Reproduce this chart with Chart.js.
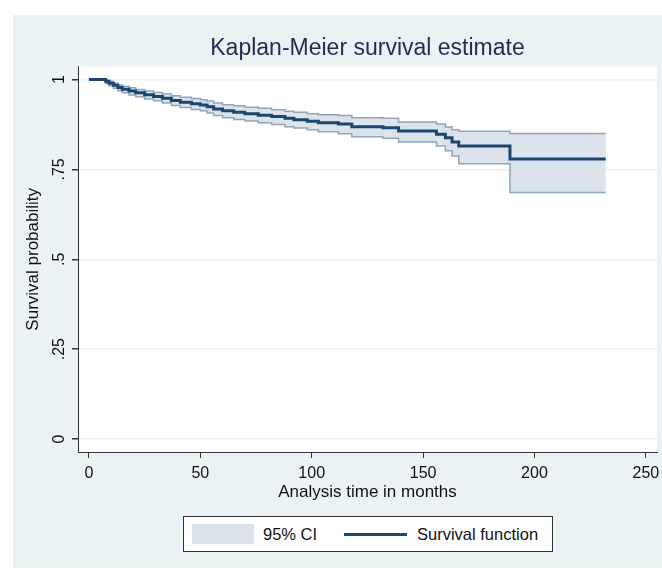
<!DOCTYPE html>
<html>
<head>
<meta charset="utf-8">
<script src="https://cdn.jsdelivr.net/npm/chart.js@4.4.0/dist/chart.umd.min.js"></script>
<style>
  body { margin: 0; background: #fff; }
  #wrap { position: relative; width: 662px; height: 570px; }
  #legend {
    position: absolute; left: 183px; top: 516px; width: 368px; height: 34px;
    border: 1px solid #333; background: #fff; white-space: nowrap;
    font-family: 'Liberation Sans', Arial, sans-serif;
    font-size: 16.5px; color: #111; line-height: 20px;
  }
  #legend .sw { position: absolute; left: 8px; top: 7px; width: 62px; height: 20px; background: #dde3ea; }
  #legend .ln { position: absolute; left: 160px; top: 16px; width: 63px; height: 3px; background: #1a476f; }
  #legend .t1 { position: absolute; left: 79px; top: 7px; }
  #legend .t2 { position: absolute; left: 233px; top: 7px; }
</style>
</head>
<body>
<div id="wrap">
  <canvas id="km"></canvas>
  <div id="legend">
    <div class="sw"></div><span class="t1">95% CI</span>
    <div class="ln"></div><span class="t2">Survival function</span>
  </div>
</div>
<script>
// step times (months) and KM estimate with 95% CI
var times    = [0, 7.5, 9, 11, 13, 15, 18, 21, 25, 29, 33, 37, 41, 46, 50, 53, 56, 60, 65, 70, 76, 82, 88, 92, 98, 103, 112, 118, 132, 139, 156, 160, 163, 166, 189, 232];
var survival = [1, .995, .990, .984, .978, .973, .968, .963, .958, .953, .948, .942, .937, .933, .929, .924, .918, .913, .909, .905, .901, .897, .892, .888, .884, .880, .876, .869, .866, .857, .848, .838, .826, .815, .779, .779];
var lowerCI  = [1, .990, .983, .976, .969, .963, .957, .952, .946, .941, .935, .928, .922, .917, .913, .907, .900, .894, .889, .885, .880, .875, .869, .865, .860, .855, .849, .841, .837, .826, .815, .802, .787, .766, .686, .686];
var upperCI  = [1, .998, .995, .990, .985, .981, .977, .972, .968, .964, .960, .955, .951, .947, .944, .940, .935, .930, .927, .923, .920, .916, .912, .909, .905, .902, .900, .894, .892, .882, .876, .868, .860, .856, .850, .850];
var xTicks = [0, 50, 100, 150, 200, 250];
var yTicks = [0, .25, .5, .75, 1];
var yTickLabels = ['0', '.25', '.5', '.75', '1'];

var fontFam = "'Liberation Sans', Arial, sans-serif";

function pts(ys){
  var out = [];
  for (var i = 0; i < times.length; i++) out.push({x: times[i], y: ys[i]});
  return out;
}

var bgPlugin = {
  id: 'stataBg',
  afterLayout: function(chart){
    // centre the title over the plot region
    chart.titleBlock.left = chart.chartArea.left;
    chart.titleBlock.right = chart.chartArea.right;
  },
  beforeDraw: function(chart){
    var ctx = chart.ctx, a = chart.chartArea;
    ctx.save();
    ctx.fillStyle = '#eaf2f3';
    ctx.fillRect(13, 15, chart.width - 13, chart.height - 17);
    ctx.fillStyle = '#fff';
    ctx.fillRect(a.left, a.top, a.right - a.left, a.bottom - a.top);
    ctx.restore();
  }
};

Chart.defaults.font.family = fontFam;
Chart.defaults.color = '#111';

new Chart(document.getElementById('km'), {
  type: 'line',
  data: {
    datasets: [{
      label: 'Survival function',
      data: pts(survival),
      borderColor: '#1a476f',
      borderWidth: 3,
      stepped: true,
      pointRadius: 0,
      fill: false
    }, {
      label: 'lower',
      data: pts(lowerCI),
      borderColor: '#8fa5bb',
      borderWidth: 1.5,
      stepped: true,
      pointRadius: 0,
      fill: false
    }, {
      label: '95% CI',
      data: pts(upperCI),
      borderColor: '#8fa5bb',
      backgroundColor: '#dde3ea',
      borderWidth: 1.5,
      stepped: true,
      pointRadius: 0,
      fill: '-1'
    }]
  },
  options: {
    responsive: true,
    maintainAspectRatio: false,
    animation: false,
    layout: { padding: { left: 13, top: 15, right: 5, bottom: 66 } },
    plugins: {
      legend: { display: false },
      tooltip: { enabled: false },
      title: {
        display: true,
        text: 'Kaplan-Meier survival estimate',
        color: '#1f2e4e',
        font: { size: 23, weight: 'normal' },
        padding: { top: 20, bottom: 4 }
      }
    },
    scales: {
      x: {
        type: 'linear',
        min: -4.9,
        max: 255,
        afterBuildTicks: function(s){ s.ticks = xTicks.map(function(v){ return {value: v}; }); },
        afterFit: function(s){ s.height = 52; s.paddingLeft = 0; s.paddingRight = 0; },
        ticks: { font: { size: 16 }, color: '#111', padding: 6 },
        grid: { drawOnChartArea: false, tickLength: 6, tickColor: '#333' },
        border: { color: '#333', width: 1 },
        title: { display: true, text: 'Analysis time in months', font: { size: 17 }, color: '#111', padding: { top: 0, bottom: 1 } }
      },
      y: {
        min: -0.036,
        max: 1.036,
        afterBuildTicks: function(s){ s.ticks = yTicks.map(function(v){ return {value: v}; }); },
        afterFit: function(s){ s.width = 65; s.paddingTop = 0; s.paddingBottom = 0; },
        ticks: {
          font: { size: 16 }, color: '#111', padding: 1,
          minRotation: 90, maxRotation: 90, crossAlign: 'center',
          callback: function(v){ return yTickLabels[yTicks.indexOf(v)]; }
        },
        grid: { color: '#eaf2f3', lineWidth: 1.5, tickLength: 6, tickColor: '#333' },
        border: { color: '#333', width: 1 },
        title: { display: true, text: 'Survival probability', font: { size: 17 }, color: '#111', padding: { top: 10, bottom: 0 } }
      }
    }
  },
  plugins: [bgPlugin]
});
</script>
</body>
</html>
